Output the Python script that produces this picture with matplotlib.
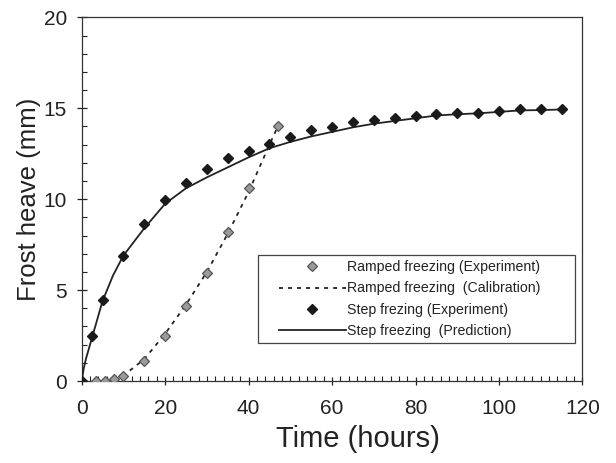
import matplotlib
matplotlib.use("Agg")
import matplotlib.pyplot as plt
from matplotlib.lines import Line2D
from matplotlib.legend_handler import HandlerLine2D
from matplotlib.ticker import MultipleLocator

plt.rcParams['font.family'] = ['Liberation Sans', 'DejaVu Sans']

# -------------------- data -------------------- #

# ramped freezing, experiment (grey diamonds)
ramp_t = [3.5, 5.7, 7.8, 9.8, 15, 20, 25, 30, 35, 40, 47]
ramp_h = [0.0, 0.0, 0.1, 0.25, 1.1, 2.47, 4.15, 5.92, 8.2, 10.6, 14.0]

# ramped freezing, calibration (dotted line)
calib_t = [8, 10, 15, 20, 25, 30, 35, 40, 45, 47]
calib_h = [0.0, 0.3, 1.2, 2.6, 4.2, 6.0, 8.1, 10.4, 13.0, 14.0]

# step freezing, experiment (black diamonds)
step_t = [0, 2.5, 5, 10, 15, 20, 25, 30, 35, 40, 45, 50, 55, 60, 65, 70,
          75, 80, 85, 90, 95, 100, 105, 110, 115]
step_h = [0.0, 2.5, 4.45, 6.9, 8.65, 9.95, 10.9, 11.65, 12.25, 12.65, 13.05,
          13.4, 13.8, 13.95, 14.25, 14.35, 14.45, 14.6, 14.7, 14.75, 14.75,
          14.85, 14.95, 14.95, 14.95]

# step freezing, prediction (solid line)
pred_t = [0, 0.5, 1, 2.5, 5, 7.5, 10, 15, 20, 25, 30, 35, 40, 45, 50, 55,
          60, 65, 70, 75, 80, 85, 90, 95, 100, 105, 110, 115]
pred_h = [0.0, 0.7, 1.2, 2.4, 4.4, 5.8, 6.9, 8.4, 9.75, 10.6, 11.2, 11.75,
          12.3, 12.8, 13.15, 13.45, 13.7, 13.95, 14.15, 14.3, 14.45, 14.6,
          14.67, 14.72, 14.8, 14.88, 14.9, 14.93]

labels = ["Ramped freezing (Experiment)",
          "Ramped freezing  (Calibration)",
          "Step frezing (Experiment)",
          "Step freezing  (Prediction)"]

# -------------------- plot -------------------- #

ink = '#222222'
fig = plt.figure(figsize=(6.16, 4.63), dpi=100)
ax = fig.add_axes([0.1326, 0.1771, 0.8130, 0.7855])

l_ramp, = ax.plot(ramp_t, ramp_h, linestyle='none', marker='D', markersize=5.6,
                  markerfacecolor='#9a9a9a', markeredgecolor='#555555',
                  markeredgewidth=0.9, zorder=4)
l_calib, = ax.plot(calib_t, calib_h, color=ink, linewidth=1.3,
                   linestyle=(0, (2.2, 2.8)), zorder=3)
l_step, = ax.plot(step_t, step_h, linestyle='none', marker='D', markersize=5.6,
                  color='#1a1a1a', zorder=5)
l_pred, = ax.plot(pred_t, pred_h, color=ink, linewidth=1.3, zorder=3)

ax.set_xlim(0, 120)
ax.set_ylim(0, 20)
ax.xaxis.set_major_locator(MultipleLocator(20))
ax.xaxis.set_minor_locator(MultipleLocator(2))
ax.yaxis.set_major_locator(MultipleLocator(5))
ax.yaxis.set_minor_locator(MultipleLocator(1))

ax.tick_params(axis='x', which='major', direction='inout', length=6,
               width=0.9, pad=10, labelsize=15, colors=ink)
ax.tick_params(axis='y', which='major', direction='inout', length=7,
               width=0.9, pad=7, labelsize=15, colors=ink)
ax.tick_params(which='minor', direction='in', length=3.5, width=0.8, colors=ink)

for s in ax.spines.values():
    s.set_linewidth(0.9)
    s.set_color('#333333')

ax.set_xlabel('Time (hours)', fontsize=21, color=ink)
ax.xaxis.set_label_coords(0.551, -0.122)
ax.set_ylabel('Frost heave (mm)', fontsize=18.5, color=ink, labelpad=2)

hmap = {l: HandlerLine2D(xpad=1.08) for l in (l_ramp, l_calib, l_step, l_pred)}
leg = ax.legend([l_ramp, l_calib, l_step, l_pred], labels,
                loc='upper left', bbox_to_anchor=(0.352, 0.0, 0.633, 0.3464),
                mode='expand', borderaxespad=0, fontsize=10.2, numpoints=1,
                handlelength=5.8, handletextpad=0.1, labelspacing=0.5,
                borderpad=0.38, fancybox=False, framealpha=1,
                edgecolor='#444444', handler_map=hmap)
leg.get_frame().set_linewidth(0.9)
for t in leg.get_texts():
    t.set_color(ink)

fig.savefig('out.png', dpi=100)
